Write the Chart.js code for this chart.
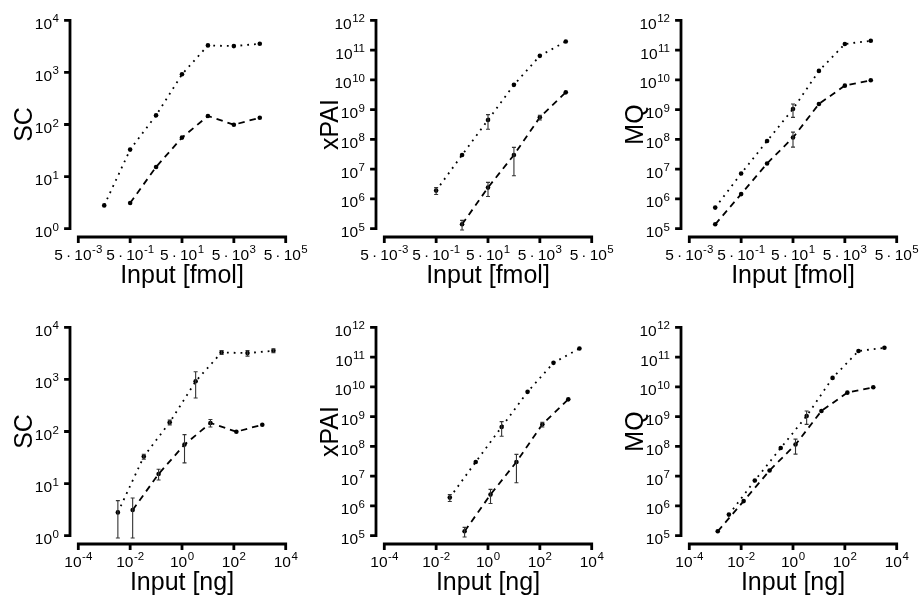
<!DOCTYPE html>
<html>
<head>
<meta charset="utf-8">
<script src="https://cdn.jsdelivr.net/npm/chart.js@4.4.1/dist/chart.umd.min.js"></script>
<style>
  html, body { margin: 0; padding: 0; background: #fff; }
  #wrap { position: relative; width: 921px; height: 599px; overflow: hidden; }
  #wrap canvas { position: absolute; }
</style>
</head>
<body>
<div id="wrap">
  <canvas id="p0" width="315" height="292" style="left:0;top:0"></canvas>
  <canvas id="p1" width="315" height="292" style="left:306px;top:0"></canvas>
  <canvas id="p2" width="315" height="292" style="left:611px;top:0"></canvas>
  <canvas id="p3" width="315" height="292" style="left:0;top:307px"></canvas>
  <canvas id="p4" width="315" height="292" style="left:306px;top:307px"></canvas>
  <canvas id="p5" width="315" height="292" style="left:611px;top:307px"></canvas>
</div>
<script>
'use strict';

// ── Data ──────────────────────────────────────────────────────────────────
// Series A = dotted line, series B = dashed line.

// x positions in fmol
const SC_A_FMOL = [0.05, 0.5, 5, 50, 500, 5000, 50000];
const SC_B_FMOL = [0.5, 5, 50, 500, 5000, 50000];
const XP_A_FMOL = [0.5, 5, 50, 500, 5000, 50000];
const XP_B_FMOL = [5, 50, 500, 5000, 50000];
const MQ_A_FMOL = [0.05, 0.5, 5, 50, 500, 5000, 50000];
const MQ_B_FMOL = [0.05, 0.5, 5, 50, 500, 5000, 50000];

// same points in ng
const SC_A_NG = [0.00336, 0.0336, 0.336, 3.36, 33.6, 336, 3360];
const SC_B_NG = [0.0125, 0.125, 1.25, 12.5, 125, 1250];
const XP_A_NG = [0.0336, 0.336, 3.36, 33.6, 336, 3360];
const XP_B_NG = [0.125, 1.25, 12.5, 125, 1250];
const MQ_A_NG = [0.00336, 0.0336, 0.336, 3.36, 33.6, 336, 3360];
const MQ_B_NG = [0.00125, 0.0125, 0.125, 1.25, 12.5, 125, 1250];

// measured values
const SC_A = [2.8, 33, 150, 920, 3300, 3200, 3550];
const SC_B = [3.1, 15.3, 56, 146, 99, 135];
const XP_A = [1.9e6, 3.0e7, 4.5e8, 6.8e9, 6.4e10, 1.95e11];
const XP_B = [1.4e5, 2.4e6, 3.0e7, 5.5e8, 3.8e9];
const MQ_A = [5.1e5, 7.1e6, 8.8e7, 1.05e9, 2.0e10, 1.6e11, 2.05e11];
const MQ_B = [1.4e5, 1.45e6, 1.55e7, 1.15e8, 1.55e9, 6.4e9, 9.7e9];

// error bar half-heights (0 = none drawn)
const SC_A_ERR = [1.9, 3.6, 16, 480, 300, 400, 300];
const SC_B_ERR = [2.2, 3.6, 31, 24, 0, 0];
const XP_A_ERR = [0.5e6, 0, 2.3e8, 0, 0, 0];
const XP_B_ERR = [0.5e5, 1.2e6, 2.4e7, 1.0e8, 0];
const MQ_A_ERR = [0, 0, 0, 5e8, 0, 0, 0];
const MQ_B_ERR = [0, 0, 0, 6e7, 0, 0, 0];

// ── Axes ──────────────────────────────────────────────────────────────────
const X_TICKS_FMOL = [5e-3, 5e-1, 5e1, 5e3, 5e5];
const X_LABELS_FMOL = [['5\u2009\u00b7\u200910', '-3'], ['5\u2009\u00b7\u200910', '-1'], ['5\u2009\u00b7\u200910', '1'], ['5\u2009\u00b7\u200910', '3'], ['5\u2009\u00b7\u200910', '5']];
const X_TICKS_NG = [1e-4, 1e-2, 1, 1e2, 1e4];
const X_LABELS_NG = [['10', '-4'], ['10', '-2'], ['10', '0'], ['10', '2'], ['10', '4']];
const Y_TICKS_SC = [1, 10, 100, 1000, 10000];
const Y_LABELS_SC = [['10', '0'], ['10', '1'], ['10', '2'], ['10', '3'], ['10', '4']];
const Y_TICKS_INT = [1e5, 1e6, 1e7, 1e8, 1e9, 1e10, 1e11, 1e12];
const Y_LABELS_INT = [['10', '5'], ['10', '6'], ['10', '7'], ['10', '8'], ['10', '9'], ['10', '10'], ['10', '11'], ['10', '12']];

const FONT      = '"Liberation Sans", Arial, Helvetica, sans-serif';
const TICK_PX   = 15.5;
const SUP_PX    = 11.5;
const SUP_RAISE = 6.5;
const TICK_LEN  = 4.5;

// ── Helpers ───────────────────────────────────────────────────────────────

// R-style axis range: data range widened by 4% on each side (log space)
function rRange(lo, hi) {
  const a = Math.log10(lo), b = Math.log10(hi), d = (b - a) * 0.04;
  return [Math.pow(10, a - d), Math.pow(10, b + d)];
}

function drawPow(ctx, base, sup, x, y, align) {
  ctx.font = TICK_PX + 'px ' + FONT;
  const wb = ctx.measureText(base).width;
  ctx.font = SUP_PX + 'px ' + FONT;
  const ws = ctx.measureText(sup).width;
  const w = wb + 0.5 + ws;
  const left = align === 'center' ? x - w / 2 : x - w;
  ctx.textAlign = 'left';
  ctx.textBaseline = 'alphabetic';
  ctx.font = TICK_PX + 'px ' + FONT;
  ctx.fillText(base, left, y);
  ctx.font = SUP_PX + 'px ' + FONT;
  ctx.fillText(sup, left + wb + 0.5, y - SUP_RAISE);
}

// Axis lines only span first..last tick, like R's axis()
const rAxes = {
  id: 'rAxes',
  afterDraw(chart, args, o) {
    const { ctx, chartArea: a } = chart;
    const xs = chart.scales.x, ys = chart.scales.y;
    const yp = o.yTicks.map(v => ys.getPixelForValue(v));
    const xp = o.xTicks.map(v => xs.getPixelForValue(v));
    ctx.save();
    ctx.strokeStyle = '#000';
    ctx.lineWidth = 2.8;
    ctx.lineCap = 'square';
    ctx.beginPath();
    ctx.moveTo(a.left, yp[0]);
    ctx.lineTo(a.left, yp[yp.length - 1]);
    yp.forEach(p => { ctx.moveTo(a.left, p); ctx.lineTo(a.left - TICK_LEN, p); });
    ctx.moveTo(xp[0], a.bottom);
    ctx.lineTo(xp[xp.length - 1], a.bottom);
    xp.forEach(p => { ctx.moveTo(p, a.bottom); ctx.lineTo(p, a.bottom + TICK_LEN); });
    ctx.stroke();

    ctx.fillStyle = '#000';
    yp.forEach((p, i) => drawPow(ctx, o.yLabels[i][0], o.yLabels[i][1], a.left - 11, p + 8.5, 'right'));
    xp.forEach((p, i) => drawPow(ctx, o.xLabels[i][0], o.xLabels[i][1], p, a.bottom + 22.5, 'center'));

    ctx.font = '25px ' + FONT;
    ctx.textAlign = 'center';
    ctx.textBaseline = 'alphabetic';
    ctx.fillText(o.xTitle, (a.left + a.right) / 2, a.bottom + 46);
    ctx.translate(a.left - 38, (a.top + a.bottom) / 2);
    ctx.rotate(-Math.PI / 2);
    ctx.fillText(o.yTitle, 0, 0);
    ctx.restore();
  },
};

const errBars = {
  id: 'errBars',
  afterDatasetsDraw(chart) {
    const { ctx } = chart;
    const xs = chart.scales.x, ys = chart.scales.y;
    ctx.save();
    ctx.strokeStyle = '#333';
    ctx.lineWidth = 1.1;
    chart.data.datasets.forEach(ds => {
      if (!ds._err) return;
      ds.data.forEach((pt, i) => {
        const e = ds._err[i];
        if (!e) return;
        const px = xs.getPixelForValue(pt.x);
        const hi = ys.getPixelForValue(pt.y + e);
        const lo = ys.getPixelForValue(Math.max(pt.y - e, 1e-9));
        ctx.beginPath();
        ctx.moveTo(px, hi); ctx.lineTo(px, lo);
        ctx.moveTo(px - 2, hi); ctx.lineTo(px + 2, hi);
        ctx.moveTo(px - 2, lo); ctx.lineTo(px + 2, lo);
        ctx.stroke();
      });
    });
    ctx.restore();
  },
};

function series(xv, yv, err, dotted) {
  return {
    data: xv.map((x, i) => ({ x, y: yv[i] })),
    _err: err,
    borderColor: '#000',
    borderWidth: 1.8,
    borderDash: dotted ? [1.8, 5] : [6.5, 5],
    tension: 0,
    fill: false,
    pointRadius: 2.3,
    pointBorderWidth: 0,
    pointBackgroundColor: '#000',
  };
}

// ── Panel builder ─────────────────────────────────────────────────────────
function buildPanel(canvasId, p) {
  const [xMin, xMax] = rRange(p.xTicks[0], p.xTicks[p.xTicks.length - 1]);
  const [yMin, yMax] = rRange(p.yTicks[0], p.yTicks[p.yTicks.length - 1]);
  return new Chart(document.getElementById(canvasId), {
    type: 'line',
    data: { datasets: [series(p.xa, p.ya, p.ea, true), series(p.xb, p.yb, p.eb, false)] },
    options: {
      responsive: false,
      animation: false,
      events: [],
      layout: { padding: { left: 70, right: 21, top: 12, bottom: 55 }, autoPadding: false },
      scales: {
        x: { type: 'logarithmic', min: xMin, max: xMax, bounds: 'data', display: false },
        y: { type: 'logarithmic', min: yMin, max: yMax, bounds: 'data', display: false },
      },
      plugins: {
        legend: { display: false },
        tooltip: { enabled: false },
        rAxes: {
          xTicks: p.xTicks, xLabels: p.xLabels, yTicks: p.yTicks, yLabels: p.yLabels,
          xTitle: p.xTitle, yTitle: p.yTitle,
        },
      },
    },
    plugins: [errBars, rAxes],
  });
}

const fmolAxes = { xTicks: X_TICKS_FMOL, xLabels: X_LABELS_FMOL, xTitle: 'Input [fmol]' };
const ngAxes   = { xTicks: X_TICKS_NG, xLabels: X_LABELS_NG, xTitle: 'Input [ng]' };
const scAxes   = { yTicks: Y_TICKS_SC, yLabels: Y_LABELS_SC, yTitle: 'SC' };
const xpAxes   = { yTicks: Y_TICKS_INT, yLabels: Y_LABELS_INT, yTitle: 'xPAI' };
const mqAxes   = { yTicks: Y_TICKS_INT, yLabels: Y_LABELS_INT, yTitle: 'MQ' };

buildPanel('p0', { ...fmolAxes, ...scAxes, xa: SC_A_FMOL, ya: SC_A, ea: null, xb: SC_B_FMOL, yb: SC_B, eb: null });
buildPanel('p1', { ...fmolAxes, ...xpAxes, xa: XP_A_FMOL, ya: XP_A, ea: XP_A_ERR, xb: XP_B_FMOL, yb: XP_B, eb: XP_B_ERR });
buildPanel('p2', { ...fmolAxes, ...mqAxes, xa: MQ_A_FMOL, ya: MQ_A, ea: MQ_A_ERR, xb: MQ_B_FMOL, yb: MQ_B, eb: MQ_B_ERR });
buildPanel('p3', { ...ngAxes, ...scAxes, xa: SC_A_NG, ya: SC_A, ea: SC_A_ERR, xb: SC_B_NG, yb: SC_B, eb: SC_B_ERR });
buildPanel('p4', { ...ngAxes, ...xpAxes, xa: XP_A_NG, ya: XP_A, ea: XP_A_ERR, xb: XP_B_NG, yb: XP_B, eb: XP_B_ERR });
buildPanel('p5', { ...ngAxes, ...mqAxes, xa: MQ_A_NG, ya: MQ_A, ea: MQ_A_ERR, xb: MQ_B_NG, yb: MQ_B, eb: MQ_B_ERR });
</script>
</body>
</html>
